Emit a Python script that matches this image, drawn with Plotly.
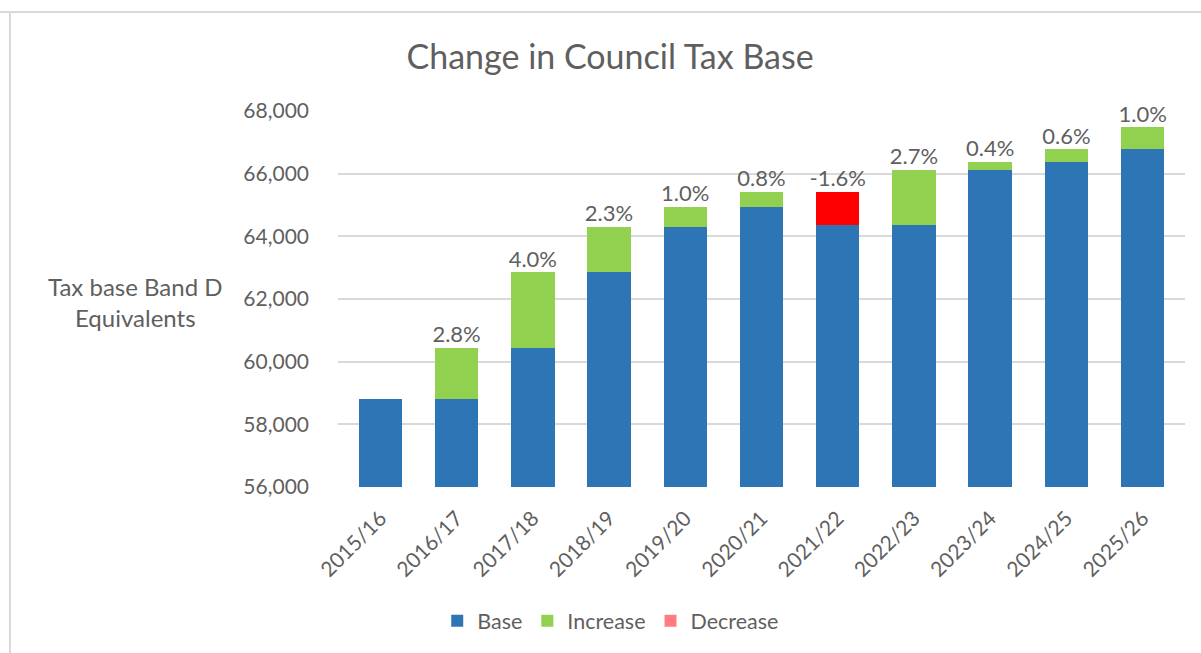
import plotly.graph_objects as go

years = ["2015/16", "2016/17", "2017/18", "2018/19", "2019/20", "2020/21",
         "2021/22", "2022/23", "2023/24", "2024/25", "2025/26"]
base = [58806, 58806, 60442, 62860, 64306, 64948, 64364, 64364, 66128, 66373, 66778]
increase = [0, 1636, 2418, 1446, 642, 478, 0, 1764, 245, 405, 702]
decrease = [0, 0, 0, 0, 0, 0, 1062, 0, 0, 0, 0]
pct_labels = ["", "2.8%", "4.0%", "2.3%", "1.0%", "0.8%", "-1.6%", "2.7%", "0.4%", "0.6%", "1.0%"]
yticks = [56000, 58000, 60000, 62000, 64000, 66000, 68000]

FONT = "Lato"
GREY = "#5f5f5f"
tops = [b + i + d for b, i, d in zip(base, increase, decrease)]
dec_colors = ["#FF7C80"] + ["#FF0000"] * (len(years) - 1)

fig = go.Figure()
fig.add_trace(go.Bar(name="Base", x=years, y=base, marker=dict(color="#2E75B6", line=dict(width=0))))
fig.add_trace(go.Bar(name="Increase", x=years, y=increase, marker=dict(color="#92D050", line=dict(width=0))))
fig.add_trace(go.Bar(name="Decrease", x=years, y=decrease, marker=dict(color=dec_colors, line=dict(width=0))))
fig.add_trace(go.Scatter(x=years, y=tops, mode="text", text=pct_labels, textposition="top center",
                         textfont=dict(family=FONT, size=22, color=GREY), showlegend=False,
                         hoverinfo="skip", cliponaxis=False))

fig.update_layout(
    width=1201, height=653,
    barmode="stack", bargap=0.43,
    paper_bgcolor="white", plot_bgcolor="white",
    margin=dict(l=338, r=16, t=111, b=166),
    font=dict(family=FONT, color=GREY, size=21),
    title=dict(text="Change in Council Tax Base", x=0.508, xref="container", xanchor="center",
               y=1 - 57 / 653, yref="container", yanchor="middle",
               font=dict(family=FONT, size=34, color=GREY)),
    legend=dict(orientation="h", x=0.322, xanchor="center", y=-0.356, yanchor="middle",
                font=dict(family=FONT, size=21.5, color=GREY), traceorder="normal"),
    xaxis=dict(tickangle=-45, tickfont=dict(family=FONT, size=21, color=GREY), showgrid=False,
               showline=False, ticks="", ticklabelstandoff=14),
    yaxis=dict(range=[56000, 68000], tickvals=yticks, tickformat=",d",
               tickfont=dict(family=FONT, size=21, color=GREY), showgrid=True,
               gridcolor="#D9D9D9", gridwidth=1.5, zeroline=False, ticks="", ticklen=0,
               ticklabelstandoff=28),
    annotations=[dict(text="Tax base Band D<br>Equivalents", x=-0.2385, y=0.4925, xref="paper",
                      yref="paper", showarrow=False, align="center", xanchor="center",
                      yanchor="middle", font=dict(family=FONT, size=24, color=GREY))],
    shapes=[
        dict(type="line", xref="paper", yref="paper", x0=-338 / 847, x1=1.1, y0=1 + (111 - 12) / 376.3,
             y1=1 + (111 - 12) / 376.3, line=dict(color="#D9D9D9", width=2)),
        dict(type="line", xref="paper", yref="paper", x0=(10 - 338) / 847, x1=(10 - 338) / 847,
             y0=1 + (111 - 12) / 376.3, y1=-0.5, line=dict(color="#D9D9D9", width=2)),
    ],
)

fig.write_html("out.html", config={"displayModeBar": False})

# remove the browser's default page margin so the figure sits at the window origin
with open("out.html", "r", encoding="utf-8") as f:
    html = f.read()
html = html.replace("<head>", "<head><style>html,body{margin:0;padding:0;overflow:hidden;}</style>", 1)
with open("out.html", "w", encoding="utf-8") as f:
    f.write(html)
